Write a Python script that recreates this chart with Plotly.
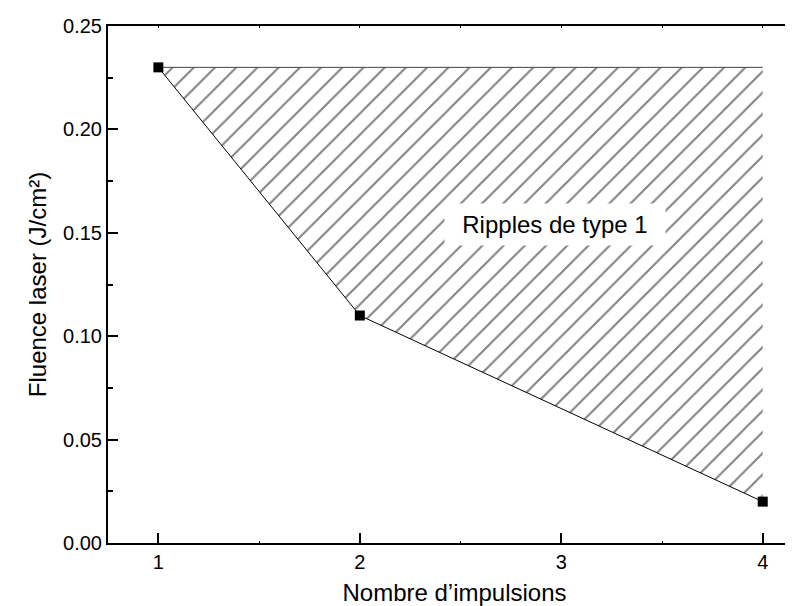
import plotly.graph_objects as go

# Data
pulses = [1, 2, 4]
fluence = [0.23, 0.11, 0.02]
region_x = [1, 2, 4, 4, 1]
region_y = [0.23, 0.11, 0.02, 0.23, 0.23]
label_text = "Ripples de type 1"
label_x = 2.97
label_y = 0.154
x_ticks = [1, 2, 3, 4]
half_ticks = [1.0, 1.5, 2.0, 2.5, 3.0, 3.5, 4.0]
y_ticks = [0.00, 0.05, 0.10, 0.15, 0.20, 0.25]
y_ticklabels = ["0.00", "0.05", "0.10", "0.15", "0.20", "0.25"]

FONT = "Liberation Sans, Arial, sans-serif"

fig = go.Figure()

# hatched region
fig.add_trace(go.Scatter(
    x=region_x, y=region_y, mode="lines", fill="toself",
    fillcolor="white",
    fillpattern=dict(shape="/", size=15, solidity=0.13, fgcolor="black", bgcolor="white"),
    line=dict(width=0), hoverinfo="skip", showlegend=False,
))
# top border of region
fig.add_trace(go.Scatter(
    x=[region_x[0], region_x[3]], y=[region_y[0], region_y[3]], mode="lines",
    line=dict(color="#444444", width=1), hoverinfo="skip", showlegend=False,
))
# lower border
fig.add_trace(go.Scatter(
    x=pulses, y=fluence, mode="lines",
    line=dict(color="black", width=1), hoverinfo="skip", showlegend=False,
))
# markers
fig.add_trace(go.Scatter(
    x=pulses, y=fluence, mode="markers",
    marker=dict(symbol="square", size=10, color="black"),
    showlegend=False,
))
# dummy trace for the secondary (tiny ticks) x axis
fig.add_trace(go.Scatter(x=[1], y=[0.1], xaxis="x2", mode="markers",
                         marker=dict(opacity=0), hoverinfo="skip", showlegend=False))

fig.add_annotation(
    x=label_x, y=label_y, text=label_text, showarrow=False,
    font=dict(family=FONT, size=24, color="black"),
    bgcolor="white", borderpad=7, width=206,
)

fig.update_layout(
    width=793, height=606,
    margin=dict(l=100, r=0, t=18, b=71),
    paper_bgcolor="white", plot_bgcolor="white",
    font=dict(family=FONT, size=20, color="black"),
    xaxis=dict(
        range=[0.75, 4.19], tickvals=x_ticks, ticktext=[str(v) for v in x_ticks],
        ticks="inside", ticklen=10, tickwidth=2, tickcolor="black",
        showline=True, linecolor="black", linewidth=2, mirror=True,
        showgrid=False, zeroline=False,
        title=dict(text="Nombre d’impulsions", font=dict(size=24), standoff=12),
        tickfont=dict(size=20),
    ),
    xaxis2=dict(
        range=[0.75, 4.19], overlaying="x", side="top", tickvals=half_ticks,
        showticklabels=False, ticks="inside", ticklen=2, tickwidth=1, tickcolor="black",
        mirror="ticks", showline=False, showgrid=False, zeroline=False,
    ),
    yaxis=dict(
        range=[0, 0.25], tickvals=y_ticks, ticktext=y_ticklabels,
        ticks="inside", ticklen=10, tickwidth=2, tickcolor="black",
        minor=dict(dtick=0.025, tick0=0, ticks="inside", ticklen=5, tickwidth=2, tickcolor="black"),
        showline=True, linecolor="black", linewidth=2, mirror=False,
        showgrid=False, zeroline=False,
        title=dict(text="Fluence laser (J/cm²)", font=dict(size=24), standoff=10),
        tickfont=dict(size=20),
    ),
)

fig.write_html("out.html")
